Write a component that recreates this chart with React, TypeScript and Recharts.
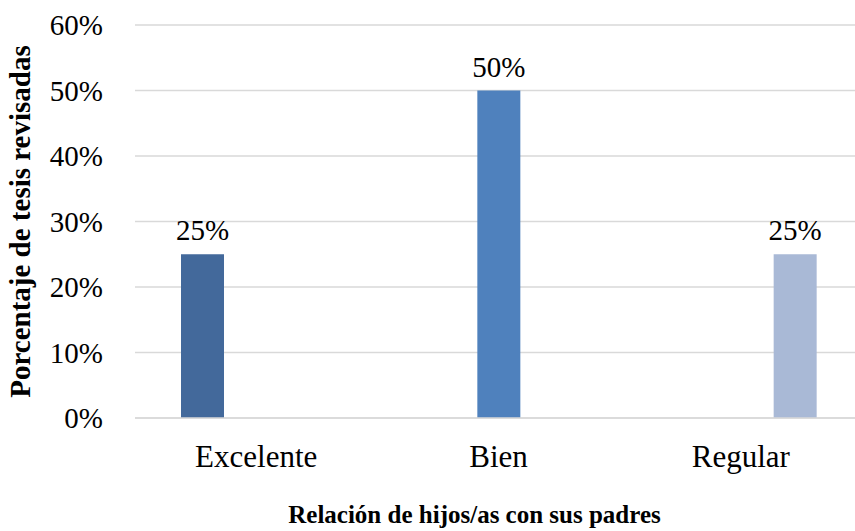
import React from 'react'
import { BarChart, Bar, XAxis, YAxis, CartesianGrid, LabelList, Label } from 'recharts'

const categories = ['Excelente', 'Bien', 'Regular']
const excelenteValues = [25, null, null]
const bienValues = [null, 50, null]
const regularValues = [null, null, 25]
const yTicks = [0, 10, 20, 30, 40, 50, 60]

const data = categories.map((name, i) => ({
  name,
  excelente: excelenteValues[i],
  bien: bienValues[i],
  regular: regularValues[i],
}))

const FONT = '"Liberation Serif", "Times New Roman", serif'

const renderValue = (props: any) => {
  const { x, y, width, value } = props
  if (value === null || value === undefined) return null
  return (
    <text x={Number(x) + Number(width) / 2} y={Number(y) - 14} textAnchor="middle"
      style={{ fontFamily: FONT, fontSize: 29, fill: '#000' }}>
      {value}%
    </text>
  )
}

export default function App() {
  return (
    <div style={{ position: 'absolute', left: 0, top: 0, width: 855, height: 531, overflow: 'hidden', background: '#fff' }}>
      <BarChart
        width={862}
        height={531}
        data={data}
        margin={{ top: 25, right: 0, bottom: 0, left: 0 }}
        barSize={43}
        barGap={11}
      >
        <CartesianGrid vertical={false} stroke="#D9D9D9" strokeWidth={1.5} />
        <XAxis
          dataKey="name"
          height={113}
          axisLine={{ stroke: '#D9D9D9', strokeWidth: 1.5 }}
          tickLine={false}
          tickSize={0}
          tickMargin={27}
          tick={{ style: { fontFamily: FONT, fontSize: 31, fill: '#000' } }}
        >
          <Label
            value="Relación de hijos/as con sus padres"
            position="insideBottom"
            offset={8}
            dx={-24}
            style={{ fontFamily: FONT, fontSize: 25, fontWeight: 'bold', fill: '#000' }}
          />
        </XAxis>
        <YAxis
          width={135}
          domain={[0, 60]}
          ticks={yTicks}
          axisLine={false}
          tickLine={false}
          tickSize={0}
          tickMargin={32}
          tickFormatter={(v: number) => `${v}%`}
          tick={{ style: { fontFamily: FONT, fontSize: 29, fill: '#000' } }}
        >
          <Label
            value="Porcentaje de tesis revisadas"
            angle={-90}
            position="insideLeft"
            offset={20}
            style={{ textAnchor: 'middle', fontFamily: FONT, fontSize: 29, fontWeight: 'bold', fill: '#000' }}
          />
        </YAxis>
        <Bar dataKey="excelente" fill="#43699B" isAnimationActive={false}>
          <LabelList dataKey="excelente" content={renderValue} />
        </Bar>
        <Bar dataKey="bien" fill="#4F81BD" isAnimationActive={false}>
          <LabelList dataKey="bien" content={renderValue} />
        </Bar>
        <Bar dataKey="regular" fill="#A9B9D6" isAnimationActive={false}>
          <LabelList dataKey="regular" content={renderValue} />
        </Bar>
      </BarChart>
    </div>
  )
}
